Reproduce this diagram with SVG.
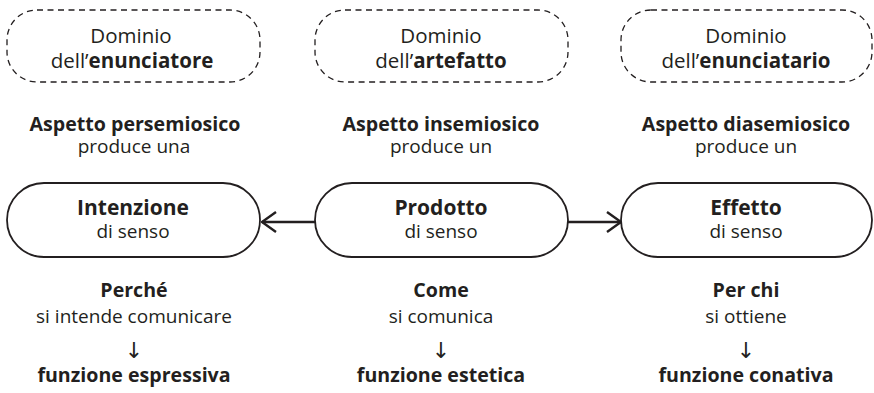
<svg xmlns="http://www.w3.org/2000/svg" width="874" height="393" viewBox="0 0 874 393">
<defs>
<style>
text{font-family:"Open Sans","Noto Sans","Liberation Sans",sans-serif;fill:#231f20;text-anchor:middle;font-size:19px}
.b{font-weight:bold;font-size:19.6px}
.d{font-size:20.5px}
.pb{font-weight:bold;font-size:21px}
.ar{font-family:"DejaVu Sans",sans-serif;font-size:22px;fill:#231f20}
.dash{fill:none;stroke:#231f20;stroke-width:1.3;stroke-dasharray:6 4.5}
.pill{fill:#fff;stroke:#231f20;stroke-width:1.8}
.con{fill:none;stroke:#231f20;stroke-width:2.4}
</style>
<marker id="ah" viewBox="0 0 16 22" refX="15" refY="11" markerWidth="16" markerHeight="22" markerUnits="userSpaceOnUse" orient="auto">
<path d="M1,1 L15,11 L1,21" fill="none" stroke="#231f20" stroke-width="2.4"/>
</marker>
</defs>
<rect width="874" height="393" fill="#fff"/>
<g id="connectors">
<line class="con" x1="315" y1="222" x2="262" y2="222" marker-end="url(#ah)"/>
<line class="con" x1="568" y1="222" x2="621" y2="222" marker-end="url(#ah)"/>
</g>
<g id="dominio-enunciatore">
<rect class="dash" x="7" y="10" width="253" height="72" rx="30" ry="30"/>
<text class="d" x="131" y="43">Dominio</text>
<text class="d" x="132" y="68">dell’<tspan style="font-weight:bold">enunciatore</tspan></text>
</g>
<g id="dominio-artefatto">
<rect class="dash" x="315" y="10" width="253" height="72" rx="30" ry="30"/>
<text class="d" x="441" y="43">Dominio</text>
<text class="d" x="441" y="68">dell’<tspan style="font-weight:bold">artefatto</tspan></text>
</g>
<g id="dominio-enunciatario">
<rect class="dash" x="621" y="10" width="251" height="72" rx="30" ry="30"/>
<text class="d" x="746" y="43">Dominio</text>
<text class="d" x="746" y="68">dell’<tspan style="font-weight:bold">enunciatario</tspan></text>
</g>
<g id="aspetto-1">
<text class="b" x="135" y="131">Aspetto persemiosico</text>
<text x="134" y="153">produce una</text>
</g>
<g id="aspetto-2">
<text class="b" x="441" y="131">Aspetto insemiosico</text>
<text x="441" y="153">produce un</text>
</g>
<g id="aspetto-3">
<text class="b" x="746" y="131">Aspetto diasemiosico</text>
<text x="746" y="153">produce un</text>
</g>
<g id="intenzione">
<rect class="pill" x="7" y="183" width="253" height="74" rx="37" ry="37"/>
<text class="pb" x="133" y="215">Intenzione</text>
<text x="133" y="238">di senso</text>
</g>
<g id="prodotto">
<rect class="pill" x="315" y="183" width="253" height="74" rx="37" ry="37"/>
<text class="pb" x="441" y="215">Prodotto</text>
<text x="441" y="238">di senso</text>
</g>
<g id="effetto">
<rect class="pill" x="621" y="183" width="251" height="74" rx="37" ry="37"/>
<text class="pb" x="746" y="215">Effetto</text>
<text x="746" y="238">di senso</text>
</g>
<g id="funzione-1">
<text class="b" x="134" y="297">Perché</text>
<text x="134" y="323">si intende comunicare</text>
<text class="ar" x="134" y="358">↓</text>
<text class="b" x="134" y="382">funzione espressiva</text>
</g>
<g id="funzione-2">
<text class="b" x="441" y="297">Come</text>
<text x="441" y="323">si comunica</text>
<text class="ar" x="441" y="358">↓</text>
<text class="b" x="441" y="382">funzione estetica</text>
</g>
<g id="funzione-3">
<text class="b" x="746" y="297">Per chi</text>
<text x="746" y="323">si ottiene</text>
<text class="ar" x="746" y="358">↓</text>
<text class="b" x="746" y="382">funzione conativa</text>
</g>
</svg>
